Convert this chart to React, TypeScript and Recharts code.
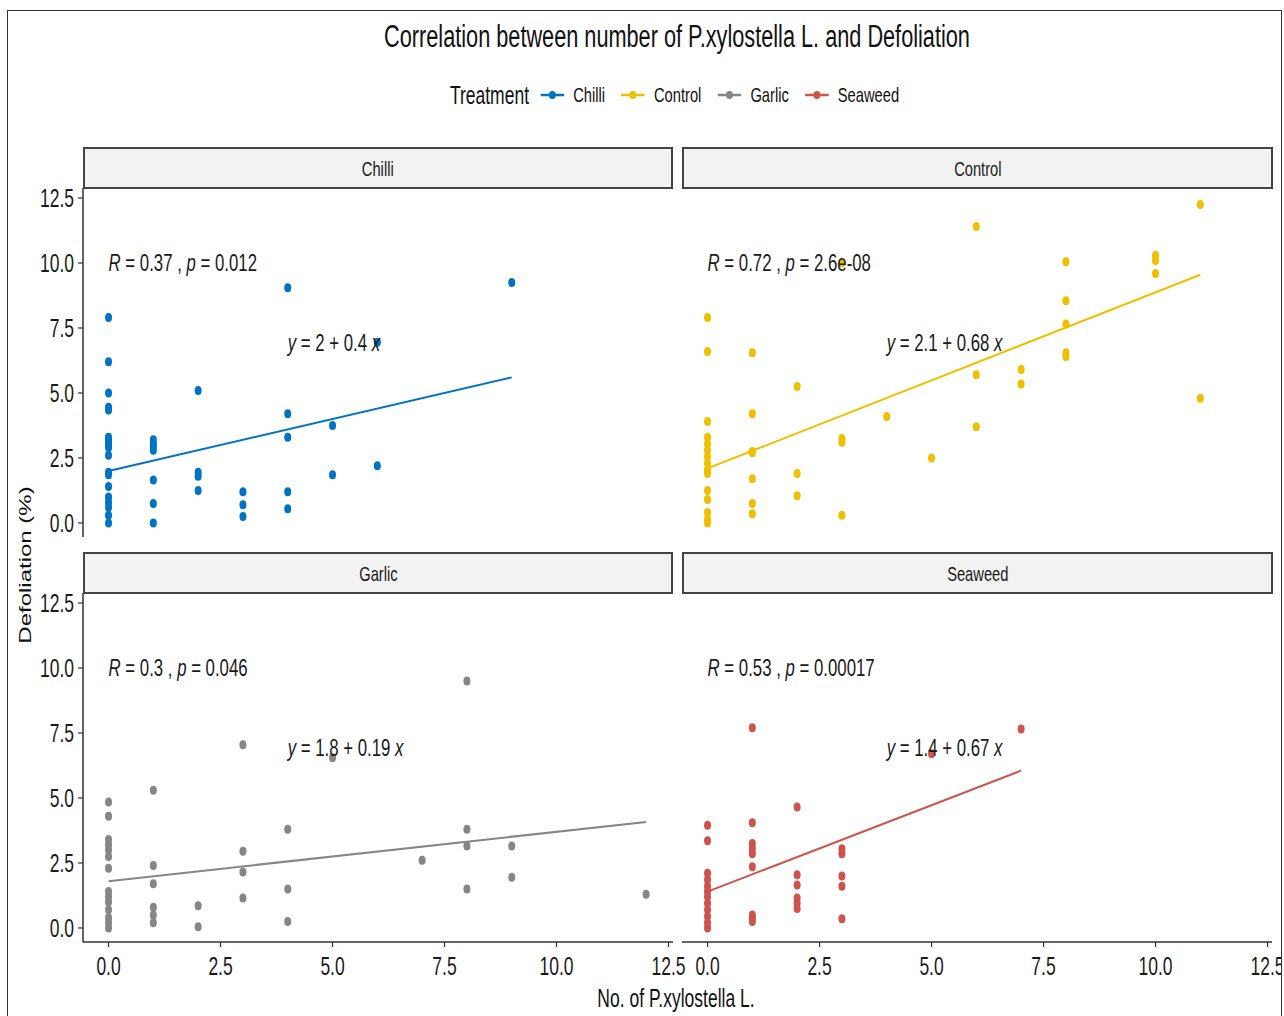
import React from 'react'
import { ScatterChart, Scatter, XAxis, YAxis, ReferenceLine } from 'recharts'

// the source image is horizontally squeezed, so text is drawn with a scaleX
const FONT = "'Liberation Sans', Arial, Helvetica, sans-serif"
const SQ = 0.7

const TREATMENTS = ['Chilli', 'Control', 'Garlic', 'Seaweed']
const COLORS = ['#0073C2', '#EFC000', '#868686', '#CD534C']

const X_TICKS = [0, 2.5, 5, 7.5, 10, 12.5]
const Y_TICKS = [0, 2.5, 5, 7.5, 10, 12.5]

// [no. of larvae, defoliation %]
const CHILLI = [
  [0, 7.9], [0, 6.2], [0, 5.0], [0, 4.45], [0, 4.35], [0, 3.3], [0, 3.2], [0, 3.1], [0, 3.0], [0, 2.9],
  [0, 2.6], [0, 1.95], [0, 1.85], [0, 1.4], [0, 1.0], [0, 0.8], [0, 0.6], [0, 0.3], [0, 0.0],
  [1, 3.2], [1, 3.05], [1, 2.95], [1, 2.8], [1, 1.65], [1, 0.75], [1, 0.0],
  [2, 5.1], [2, 1.95], [2, 1.8], [2, 1.25],
  [3, 1.2], [3, 0.7], [3, 0.25],
  [4, 9.05], [4, 4.2], [4, 3.3], [4, 1.2], [4, 0.55],
  [5, 3.75], [5, 1.85],
  [6, 6.95], [6, 2.2],
  [9, 9.25],
]
const CONTROL = [
  [0, 7.9], [0, 6.6], [0, 3.9], [0, 3.3], [0, 3.05], [0, 2.8], [0, 2.55], [0, 2.3], [0, 2.05], [0, 1.9],
  [0, 1.25], [0, 0.9], [0, 0.4], [0, 0.15], [0, 0.0],
  [1, 6.55], [1, 4.2], [1, 2.75], [1, 2.7], [1, 1.7], [1, 0.75], [1, 0.35],
  [2, 5.25], [2, 1.9], [2, 1.05],
  [3, 10.0], [3, 3.25], [3, 3.1], [3, 0.3],
  [4, 4.1],
  [5, 2.5],
  [6, 11.4], [6, 5.7], [6, 3.7],
  [7, 5.9], [7, 5.35],
  [8, 10.05], [8, 8.55], [8, 7.65], [8, 6.55], [8, 6.4],
  [10, 10.3], [10, 10.1], [10, 9.6],
  [11, 12.25], [11, 4.8],
]
const GARLIC = [
  [0, 4.85], [0, 4.3], [0, 3.4], [0, 3.2], [0, 3.0], [0, 2.75], [0, 2.3], [0, 1.4], [0, 1.2], [0, 1.0],
  [0, 0.7], [0, 0.4], [0, 0.2], [0, 0.0],
  [1, 5.3], [1, 2.4], [1, 1.7], [1, 0.8], [1, 0.5], [1, 0.2],
  [2, 0.85], [2, 0.05],
  [3, 7.05], [3, 2.95], [3, 2.15], [3, 1.15],
  [4, 3.8], [4, 1.5], [4, 0.25],
  [5, 6.55],
  [7, 2.6],
  [8, 9.5], [8, 3.8], [8, 3.15], [8, 1.5],
  [9, 3.15], [9, 1.95],
  [12, 1.3],
]
const SEAWEED = [
  [0, 3.95], [0, 3.35], [0, 2.1], [0, 1.85], [0, 1.6], [0, 1.4], [0, 1.2], [0, 0.95], [0, 0.7], [0, 0.45],
  [0, 0.2], [0, 0.0],
  [1, 7.7], [1, 4.05], [1, 3.25], [1, 3.05], [1, 2.85], [1, 2.35], [1, 0.5], [1, 0.35], [1, 0.25],
  [2, 4.65], [2, 2.05], [2, 1.65], [2, 1.15], [2, 0.95], [2, 0.75],
  [3, 3.05], [3, 2.85], [3, 2.0], [3, 1.6], [3, 0.35],
  [5, 6.7],
  [7, 7.65],
]

// fitted line ends
const CHILLI_FIT = [[0, 2.0], [9, 5.6]]
const CONTROL_FIT = [[0, 2.1], [11, 9.55]]
const GARLIC_FIT = [[0, 1.8], [12, 4.08]]
const SEAWEED_FIT = [[0, 1.4], [7, 6.05]]

const R_VALUES = ['0.37', '0.72', '0.3', '0.53']
const P_VALUES = ['0.012', '2.6e-08', '0.046', '0.00017']
const INTERCEPTS = ['2', '2.1', '1.8', '1.4']
const SLOPES = ['0.4', '0.68', '0.19', '0.67']

const POINTS = [CHILLI, CONTROL, GARLIC, SEAWEED]
const FITS = [CHILLI_FIT, CONTROL_FIT, GARLIC_FIT, SEAWEED_FIT]

const X_DOMAIN = [-0.57, 12.6]
const Y_DOMAIN = [-0.54, 12.885]
const STAT_AT = { x: 0, y: 10 }
const EQ_AT = { x: 4, y: 6.95 }

const toXY = (rows: number[][]) => rows.map(([x, y]) => ({ x, y }))

const INK = '#1a1a1a'
const AXIS = '#333'

const PLOT_W = 590
const PLOT_H = 349
const Y_AXIS_W = 74
const X_AXIS_H = 50
const PAD_TOP = 12

const squishTick = (anchor: 'middle' | 'end', dy: string) => (p: any) => (
  <g transform={`translate(${p.x},${p.y})`}>
    <text
      transform={`scale(${SQ},1)`}
      textAnchor={anchor}
      dy={dy}
      fill={INK}
      fontSize={25}
      fontFamily={FONT}
    >
      {Number(p.payload.value).toFixed(1)}
    </text>
  </g>
)

type PanelProps = {
  idx: number
  left: number
  top: number
  showX: boolean
  showY: boolean
}

function Panel({ idx, left, top, showX, showY }: PanelProps) {
  const color = COLORS[idx]
  const fit = FITS[idx]
  const padRight = showY ? 22 : 9
  const width = PLOT_W + (showY ? Y_AXIS_W : 0) + padRight
  const height = PLOT_H + PAD_TOP + (showX ? X_AXIS_H : 0)

  const statShape = (p: any) => (
    <g transform={`translate(${p.cx},${p.cy})`}>
      <text transform={`scale(${SQ},1)`} dy="0.35em" fontSize={24} fill={INK} fontFamily={FONT}>
        <tspan fontStyle="italic">R</tspan>
        {` = ${R_VALUES[idx]} , `}
        <tspan fontStyle="italic">p</tspan>
        {` = ${P_VALUES[idx]}`}
      </text>
    </g>
  )
  const eqShape = (p: any) => (
    <g transform={`translate(${p.cx},${p.cy})`}>
      <text transform={`scale(${SQ},1)`} dy="0.35em" fontSize={24} fill={INK} fontFamily={FONT}>
        <tspan fontStyle="italic">y</tspan>
        {` = ${INTERCEPTS[idx]} + ${SLOPES[idx]} `}
        <tspan fontStyle="italic">x</tspan>
      </text>
    </g>
  )

  return (
    <div style={{ position: 'absolute', left: showY ? left - Y_AXIS_W : left, top: top - PAD_TOP }}>
      <ScatterChart
        width={width}
        height={height}
        margin={{ top: PAD_TOP, right: padRight, bottom: 0, left: 0 }}
      >
        <XAxis
          type="number"
          dataKey="x"
          domain={X_DOMAIN}
          ticks={X_TICKS}
          interval={0}
          allowDataOverflow
          hide={!showX}
          height={X_AXIS_H}
          tick={squishTick('middle', '0.71em')}
          tickSize={5}
          tickMargin={10}
          axisLine={{ stroke: AXIS, strokeWidth: 1.5 }}
          tickLine={{ stroke: AXIS, strokeWidth: 1.2 }}
        />
        <YAxis
          type="number"
          dataKey="y"
          domain={Y_DOMAIN}
          ticks={Y_TICKS}
          interval={0}
          allowDataOverflow
          hide={!showY}
          width={Y_AXIS_W}
          tick={squishTick('end', '0.35em')}
          tickSize={5}
          tickMargin={4}
          axisLine={{ stroke: AXIS, strokeWidth: 1.5 }}
          tickLine={{ stroke: AXIS, strokeWidth: 1.2 }}
        />
        <Scatter
          data={toXY(POINTS[idx])}
          isAnimationActive={false}
          shape={(p: any) => <ellipse cx={p.cx} cy={p.cy} rx={3.5} ry={4.5} fill={color} />}
        />
        <ReferenceLine
          segment={[{ x: fit[0][0], y: fit[0][1] }, { x: fit[1][0], y: fit[1][1] }]}
          stroke={color}
          strokeWidth={2}
          ifOverflow="visible"
        />
        <Scatter data={[STAT_AT]} isAnimationActive={false} shape={statShape} />
        <Scatter data={[EQ_AT]} isAnimationActive={false} shape={eqShape} />
      </ScatterChart>
    </div>
  )
}

function Strip({ label, left, top, width }: { label: string; left: number; top: number; width: number }) {
  return (
    <div
      style={{
        position: 'absolute',
        left,
        top,
        width,
        height: 42,
        boxSizing: 'border-box',
        background: '#F2F2F2',
        border: '2px solid #444',
        lineHeight: '40px',
        textAlign: 'center',
      }}
    >
      <span
        style={{
          display: 'inline-block',
          transform: `scaleX(${SQ})`,
          fontFamily: FONT,
          fontSize: 21,
          color: INK,
        }}
      >
        {label}
      </span>
    </div>
  )
}

function LegendKey({ color }: { color: string }) {
  return (
    <svg width={34} height={12} style={{ display: 'block' }}>
      <line x1={0} x2={34} y1={6} y2={6} stroke={color} strokeWidth={2.4} />
      <ellipse cx={17} cy={6} rx={5} ry={4} fill={color} />
    </svg>
  )
}

export default function App() {
  return (
    <div
      style={{
        position: 'absolute',
        left: 0,
        top: 0,
        width: 1284,
        height: 1016,
        overflow: 'hidden',
        background: '#fff',
      }}
    >
      <div
        style={{
          position: 'absolute',
          left: 7,
          top: 10,
          width: 1273,
          height: 1030,
          border: '1px solid #333',
        }}
      />
      <div
        style={{
          position: 'absolute',
          left: 0,
          top: 19,
          width: 1354,
          textAlign: 'center',
          fontFamily: FONT,
          fontSize: 31,
          lineHeight: '36px',
          color: '#111',
          transform: `scaleX(${SQ})`,
        }}
      >
        Correlation between number of P.xylostella L. and Defoliation
      </div>
      <div
        style={{
          position: 'absolute',
          left: 0,
          top: 80,
          width: 1349,
          height: 30,
          display: 'flex',
          justifyContent: 'center',
          alignItems: 'center',
          fontFamily: FONT,
          color: '#111',
          transform: `scaleX(${SQ})`,
        }}
      >
        <span style={{ fontSize: 25, marginRight: 16 }}>Treatment</span>
        {TREATMENTS.map((t, i) => (
          <div key={t} style={{ display: 'flex', alignItems: 'center', marginRight: i < 3 ? 23 : 0 }}>
            <LegendKey color={COLORS[i]} />
            <span style={{ fontSize: 21, marginLeft: 13 }}>{t}</span>
          </div>
        ))}
      </div>

      <Strip label={TREATMENTS[0]} left={83} top={147} width={590} />
      <Strip label={TREATMENTS[1]} left={682} top={147} width={591} />
      <Strip label={TREATMENTS[2]} left={83} top={552} width={590} />
      <Strip label={TREATMENTS[3]} left={682} top={552} width={591} />

      <Panel idx={1} left={682} top={188} showX={false} showY={false} />
      <Panel idx={3} left={682} top={593} showX showY={false} />
      <Panel idx={0} left={83} top={188} showX={false} showY />
      <Panel idx={2} left={83} top={593} showX showY />

      <div
        style={{
          position: 'absolute',
          left: 25 - 150,
          top: 565 - 15,
          width: 300,
          height: 30,
          lineHeight: '30px',
          textAlign: 'center',
          transform: `scaleX(${SQ}) rotate(-90deg)`,
          fontFamily: FONT,
          fontSize: 24,
          color: '#111',
        }}
      >
        Defoliation (%)
      </div>
      <div
        style={{
          position: 'absolute',
          left: 0,
          top: 983,
          width: 1352,
          textAlign: 'center',
          fontFamily: FONT,
          fontSize: 25,
          lineHeight: '30px',
          color: '#111',
          transform: `scaleX(${SQ})`,
        }}
      >
        No. of P.xylostella L.
      </div>
    </div>
  )
}
